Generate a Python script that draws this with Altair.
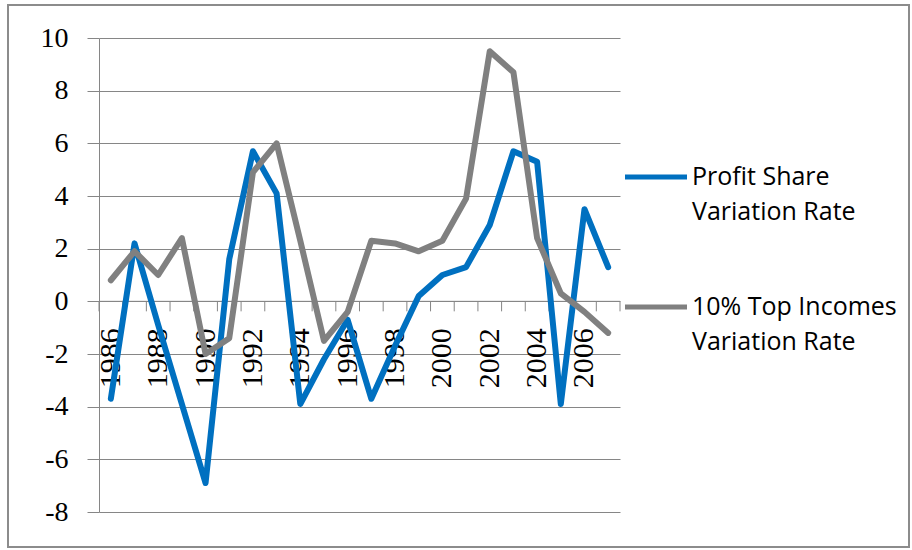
import altair as alt
import pandas as pd

years = list(range(1986, 2008))
profit_share = [-3.7, 2.2, -0.9, -3.9, -6.9, 1.6, 5.7, 4.1, -3.9, -2.2, -0.7,
                -3.7, -1.7, 0.2, 1.0, 1.3, 2.9, 5.7, 5.3, -3.9, 3.5, 1.3]
top_incomes = [0.8, 1.9, 1.0, 2.4, -2.0, -1.4, 4.9, 6.0, 2.3, -1.5, -0.4,
               2.3, 2.2, 1.9, 2.3, 3.9, 9.5, 8.7, 2.4, 0.3, -0.4, -1.2]
series_names = ["Profit Share|Variation Rate", "10% Top Incomes|Variation Rate"]
series_colors = ["#0070C0", "#808080"]
label_years = [str(y) for y in range(1986, 2007, 2)]
tick_bounds = [y - 0.5 for y in range(1986, 2009)]
y_ticks = list(range(-8, 11, 2))

df = pd.DataFrame({
    "year": years + years,
    "value": profit_share + top_incomes,
    "series": [series_names[0]] * len(years) + [series_names[1]] * len(years),
})
legend_df = pd.DataFrame({"series": series_names})
ticks_df = pd.DataFrame({"b": tick_bounds})
labels_df = pd.DataFrame({"year": [int(s) for s in label_years], "lab": label_years})
axis_df = pd.DataFrame({"x0": [min(tick_bounds)], "x1": [max(tick_bounds)], "y0": [0]})
frame_df = pd.DataFrame({"k": [0]})

GRID = "#868686"
xscale = alt.Scale(domain=[min(tick_bounds), max(tick_bounds)], nice=False, zero=False)
yscale = alt.Scale(domain=[min(y_ticks), max(y_ticks)], nice=False, zero=False)
cscale = alt.Scale(domain=series_names, range=series_colors)

# legend layout (pixels relative to the plot area)
LEG_Y = [139, 269]
LEG_X0, LEG_X1, LEG_TX = 526, 588, 593

frame = alt.Chart(frame_df).mark_rect(fillOpacity=0, stroke="#8c8c8c", strokeWidth=2).encode(
    x=alt.value(-91), x2=alt.value(810), y=alt.value(-33), y2=alt.value(509)
)

axis_line = alt.Chart(axis_df).mark_rule(color=GRID, strokeWidth=1).encode(
    x=alt.X("x0:Q", scale=xscale, axis=None),
    x2="x1:Q",
    y=alt.Y("y0:Q", scale=yscale),
)

ticks = alt.Chart(ticks_df).mark_rule(color=GRID, strokeWidth=1, y2Offset=10).encode(
    x=alt.X("b:Q", scale=xscale, axis=None),
    y=alt.datum(0, scale=yscale),
    y2=alt.datum(0),
)

labels = alt.Chart(labels_df).mark_text(
    angle=270, align="right", baseline="middle", dx=-27,
    font="Liberation Serif", fontSize=30, color="black",
).encode(
    x=alt.X("year:Q", scale=xscale, axis=None),
    y=alt.datum(0, scale=yscale),
    text="lab:N",
)

yaxis = alt.Axis(
    values=y_ticks, grid=True, gridColor=GRID, gridWidth=1,
    domainColor=GRID, domainWidth=1, tickColor=GRID, tickSize=12,
    labelFont="Liberation Serif", labelFontSize=28, labelColor="black",
    labelPadding=19, title=None, labelExpr="'' + datum.value",
)

def series_line(name):
    return alt.Chart(df).transform_filter(
        alt.datum.series == name
    ).mark_line(strokeWidth=6, strokeJoin="round", strokeCap="round").encode(
        x=alt.X("year:Q", scale=xscale, axis=None),
        y=alt.Y("value:Q", scale=yscale, axis=yaxis),
        color=alt.Color("series:N", scale=cscale, legend=None),
    )

def legend_entry(i, name):
    base = alt.Chart(legend_df).transform_filter(alt.datum.series == name)
    sym = base.mark_rule(strokeWidth=5).encode(
        x=alt.value(LEG_X0), x2=alt.value(LEG_X1), y=alt.value(LEG_Y[i]),
        color=alt.Color("series:N", scale=cscale, legend=None),
    )
    txt = base.transform_calculate(
        lines="split(datum.series, '|')"
    ).mark_text(
        align="left", baseline="middle", lineHeight=35,
        font="Open Sans", fontSize=25, color="black",
    ).encode(
        x=alt.value(LEG_TX), y=alt.value(LEG_Y[i]), text="lines:N",
    )
    return sym + txt

layers = [frame, axis_line, ticks, labels,
          series_line(series_names[0]), series_line(series_names[1])]
for i, name in enumerate(series_names):
    layers.append(legend_entry(i, name))

chart = alt.layer(*layers).properties(
    width=521, height=474,
    padding={"left": 99, "top": 38, "right": 292, "bottom": 38},
    autosize=alt.AutoSizeParams(type="none"),
).configure_view(strokeWidth=0)

chart.save("out.html", embed_options={"renderer": "svg", "actions": False})
